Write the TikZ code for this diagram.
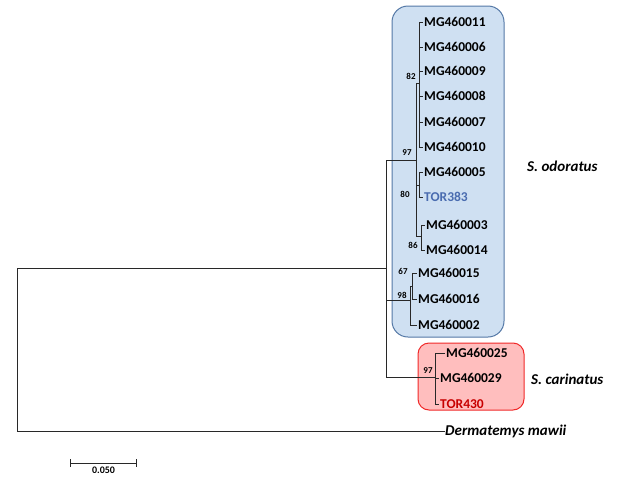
\documentclass[tikz,border=0pt]{standalone}
\usepackage{fontspec}
\setmainfont{Carlito}
\usepackage{tikz}
\usetikzlibrary{calc,arrows,positioning}
\definecolor{cladeblue}{RGB}{207,224,242}
\definecolor{cladeblueline}{RGB}{84,120,166}
\definecolor{cladered}{RGB}{255,190,190}
\definecolor{claderedline}{RGB}{240,40,40}
\definecolor{torblue}{RGB}{74,108,176}
\definecolor{torred}{RGB}{200,0,0}
\definecolor{branchgray}{RGB}{40,40,40}
\tikzstyle{taxon}=[anchor=west,inner sep=1pt,font=\fontsize{13.5}{14}\selectfont\bfseries]
\tikzstyle{boot}=[inner sep=0pt,font=\fontsize{9}{10}\selectfont\bfseries]
\tikzstyle{species}=[anchor=west,inner sep=0pt,font=\fontsize{15}{16}\selectfont\bfseries\itshape]
\tikzstyle{branch}=[draw=branchgray,line width=1pt]

\begin{document}
\begin{tikzpicture}[x=1pt,y=-1pt]
\useasboundingbox (0,0) rectangle (624,477);
% clade boxes
\draw[fill=cladeblue,draw=cladeblueline,line width=1pt,rounded corners=16pt] (392,6) rectangle (504,337);
\draw[fill=cladered,draw=claderedline,line width=1pt,rounded corners=11pt] (418,343) rectangle (524,410);

% internal nodes
\coordinate (root) at (17,349);
\coordinate (ingrp) at (386,268);
\coordinate (odA) at (416,160);
\coordinate (c82) at (419,83);
\coordinate (c80) at (419,185);
\coordinate (c86) at (421,236);
\coordinate (c98) at (410,300);
\coordinate (c67) at (412,286);
\coordinate (car) at (435,377);

% leaves
\node [taxon] (mg11) at (423,22) {MG460011};
\node [taxon] (mg06) at (423,47) {MG460006};
\node [taxon] (mg09) at (423,71) {MG460009};
\node [taxon] (mg08) at (423,96) {MG460008};
\node [taxon] (mg07) at (423,122) {MG460007};
\node [taxon] (mg10) at (423,147) {MG460010};
\node [taxon] (mg05) at (423,172) {MG460005};
\node [taxon, text=torblue] (tor383) at (423,197) {TOR383};
\node [taxon] (mg03) at (425,225) {MG460003};
\node [taxon] (mg14) at (425,250) {MG460014};
\node [taxon] (mg15) at (417,273) {MG460015};
\node [taxon] (mg16) at (417,299) {MG460016};
\node [taxon] (mg02) at (417,325) {MG460002};
\node [taxon] (mg25) at (445,353) {MG460025};
\node [taxon] (mg29) at (439,378) {MG460029};
\node [taxon, text=torred] (tor430) at (439,404) {TOR430};
\node [species] (derm) at (445,431) {Dermatemys mawii};

% branches
\path[branch] (root) |- (ingrp) (root) |- (derm.west);
\path[branch] (ingrp) |- (odA) (ingrp) |- (c98) (ingrp) |- (car);
\path[branch] (odA) |- (c82) (odA) |- (c80) (odA) |- (c86);
\foreach \leaf in {mg11,mg06,mg09,mg08,mg07,mg10}
  \path[branch] (c82) |- (\leaf.west);
\path[branch] (c80) |- (mg05.west) (c80) |- (tor383.west);
\path[branch] (c86) |- (mg03.west) (c86) |- (mg14.west);
\path[branch] (c98) |- (c67) (c98) |- (mg02.west);
\path[branch] (c67) |- (mg15.west) (c67) |- (mg16.west);
\path[branch] (car) |- (mg25.west) (car) |- (mg29.west) (car) |- (tor430.west);

% bootstrap values
\node [boot] (b97a) at (407,153) {97};
\node [boot] (b82) at (411,76) {82};
\node [boot] (b80) at (405,194) {80};
\node [boot] (b86) at (413,245) {86};
\node [boot] (b67) at (403,271) {67};
\node [boot] (b98) at (402,295) {98};
\node [boot] (b97b) at (428,371) {97};

% species names
\node [species] (sodo) at (527,166) {S. odoratus};
\node [species] (scar) at (531,379) {S. carinatus};

% scale bar
\coordinate (sbl) at (70,463);
\coordinate (sbr) at (137,463);
\draw[branchgray,line width=1pt,|-|] (sbl) -- (sbr);
\node [boot, font=\fontsize{10}{11}\selectfont\bfseries] (sblab) at ($(sbl)!0.5!(sbr)+(0,7)$) {0.050};
\end{tikzpicture}
\end{document}
